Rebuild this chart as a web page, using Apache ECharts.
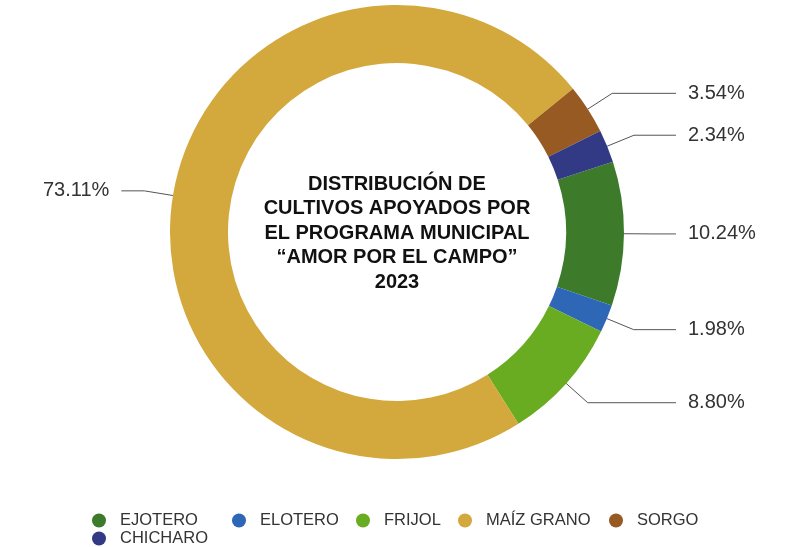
<!DOCTYPE html>
<html>
<head>
<meta charset="utf-8">
<script src="https://cdn.jsdelivr.net/npm/echarts@6/dist/echarts.min.js"></script>
<style>
  html, body { margin: 0; padding: 0; background: #fff; }
  #main { width: 785px; height: 547px; }
</style>
</head>
<body>
<div id="main"></div>
<script>
// cultivos y porcentajes (orden de la leyenda = orden del anillo, sentido horario)
var cultivos = ['EJOTERO', 'ELOTERO', 'FRIJOL', 'MAÍZ GRANO', 'SORGO', 'CHICHARO'];
var porcentajes = [10.24, 1.98, 8.80, 73.11, 3.54, 2.34];
var colores = ['#3d7b2b', '#2f67b7', '#6aac21', '#d3a83c', '#975a23', '#323a86'];
var titulo = 'DISTRIBUCIÓN DE\nCULTIVOS APOYADOS POR\nEL PROGRAMA MUNICIPAL\n“AMOR POR EL CAMPO”\n2023';

var fuente = '"Liberation Sans", Arial, Helvetica, sans-serif';

var chart = echarts.init(document.getElementById('main'));

var datos = cultivos.map(function (c, i) {
    return { name: c, value: porcentajes[i], itemStyle: { color: colores[i] } };
});

// posicion de cada entrada de la leyenda (centro del circulo)
var leyendaX = [99, 239, 363, 465, 616, 99];
var leyendaY = [520, 520, 520, 520, 520, 538];

var leyendas = cultivos.map(function (c, i) {
    return {
        data: [c],
        left: leyendaX[i] - 12,
        top: leyendaY[i] - 13,
        icon: 'circle',
        itemWidth: 32,
        itemHeight: 14,
        textStyle: { fontFamily: fuente, fontSize: 16.5, color: '#333' }
    };
});

chart.setOption({
    animation: false,
    backgroundColor: '#fff',
    legend: leyendas,
    graphic: [{
        type: 'text',
        x: 397,
        y: 233,
        style: {
            text: titulo,
            align: 'center',
            verticalAlign: 'middle',
            font: 'bold 20px ' + fuente,
            lineHeight: 24.5,
            fill: '#111'
        }
    }],
    series: [{
        type: 'pie',
        center: [397, 232],
        radius: [169, 227],
        startAngle: 18,
        clockwise: true,
        data: datos,
        emphasis: { disabled: true },
        label: {
            position: 'outer',
            alignTo: 'labelLine',
            distanceToLabelLine: 12,
            formatter: function (p) { return p.value.toFixed(2) + '%'; },
            fontFamily: fuente,
            fontSize: 20,
            color: '#333'
        },
        labelLine: {
            show: true,
            length: 29,
            length2: 23,
            lineStyle: { color: '#555', width: 1 }
        }
    }]
});
</script>
</body>
</html>
